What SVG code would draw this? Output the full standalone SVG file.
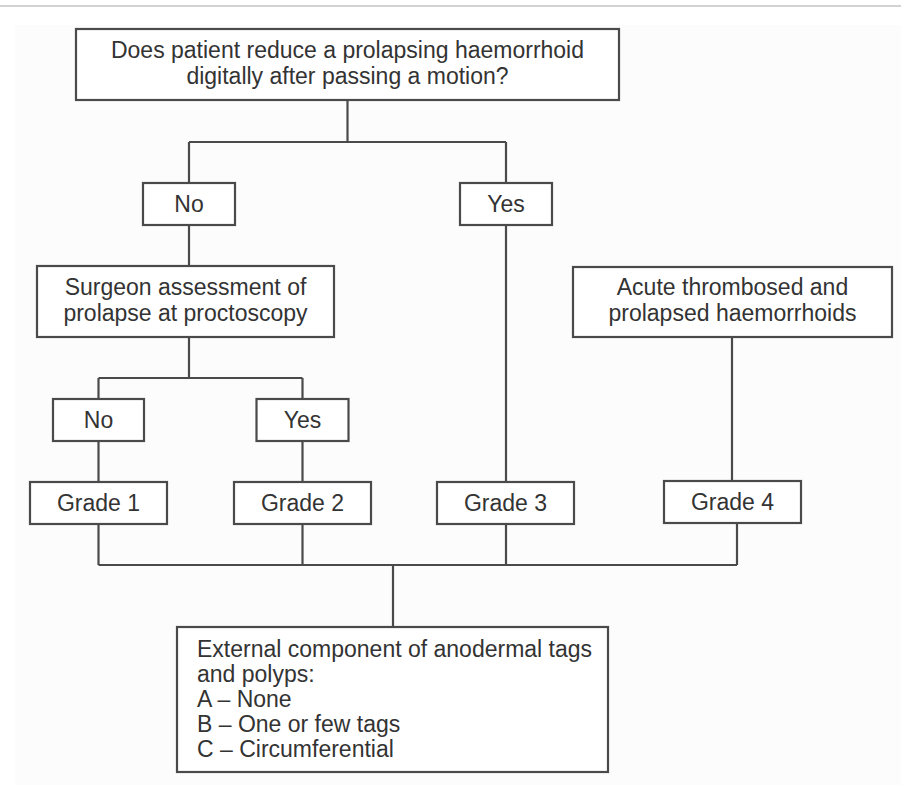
<svg xmlns="http://www.w3.org/2000/svg" width="901" height="785" viewBox="0 0 901 785">
<style>
.box{fill:#ffffff;stroke:#4a4a4a;stroke-width:2.2}
.con{fill:none;stroke:#4a4a4a;stroke-width:2.2}
text{font-family:"Liberation Sans",Arial,sans-serif;font-size:23px;fill:#333333}
.c{text-anchor:middle}
</style>
<rect x="0" y="0" width="901" height="785" fill="#ffffff"/>
<rect x="15" y="25" width="886" height="760" fill="#fcfcfc"/>
<line x1="0" y1="6" x2="901" y2="6" stroke="#d2d2d2" stroke-width="2"/>
<g id="connectors">
<path class="con" d="M347.5,100 V142 M189,142 H506 M189,142 V183 M506,142 V183"/>
<path class="con" d="M189,225 V266"/>
<path class="con" d="M189,337 V378 M98.5,378 H302.5 M98.5,378 V399 M302.5,378 V399"/>
<path class="con" d="M98.5,441 V482 M302.5,441 V482"/>
<path class="con" d="M506,225 V482"/>
<path class="con" d="M732,337 V481"/>
<path class="con" d="M98.5,524 V565 M302.5,524 V565 M506,524 V565 M737,523 V565 M98.5,565 H737 M393,565 V627"/>
</g>
<g id="q1">
<rect class="box" x="76" y="29" width="543" height="71"/>
<text class="c" x="347.5" y="58">Does patient reduce a prolapsing haemorrhoid</text>
<text class="c" x="347.5" y="84">digitally after passing a motion?</text>
</g>
<g id="no1">
<rect class="box" x="143" y="183" width="92" height="42"/>
<text class="c" x="189" y="212">No</text>
</g>
<g id="yes1">
<rect class="box" x="460" y="183" width="92" height="42"/>
<text class="c" x="506" y="212">Yes</text>
</g>
<g id="surgeon">
<rect class="box" x="37" y="266" width="297" height="71"/>
<text class="c" x="185.5" y="295">Surgeon assessment of</text>
<text class="c" x="185.5" y="321">prolapse at proctoscopy</text>
</g>
<g id="acute">
<rect class="box" x="573" y="267" width="319" height="70"/>
<text class="c" x="732.5" y="295">Acute thrombosed and</text>
<text class="c" x="732.5" y="321">prolapsed haemorrhoids</text>
</g>
<g id="no2">
<rect class="box" x="53" y="399" width="91" height="42"/>
<text class="c" x="98.5" y="428">No</text>
</g>
<g id="yes2">
<rect class="box" x="256.5" y="399" width="92" height="42"/>
<text class="c" x="302.5" y="428">Yes</text>
</g>
<g id="grade1">
<rect class="box" x="30" y="482" width="137" height="42"/>
<text class="c" x="98.5" y="511">Grade 1</text>
</g>
<g id="grade2">
<rect class="box" x="234" y="482" width="137" height="42"/>
<text class="c" x="302.5" y="511">Grade 2</text>
</g>
<g id="grade3">
<rect class="box" x="437" y="482" width="137" height="42"/>
<text class="c" x="505.5" y="511">Grade 3</text>
</g>
<g id="grade4">
<rect class="box" x="664" y="481" width="137" height="42"/>
<text class="c" x="732.5" y="510">Grade 4</text>
</g>
<g id="external">
<rect class="box" x="177" y="627" width="431" height="145"/>
<text x="197" y="657">External component of anodermal tags</text>
<text x="197" y="682">and polyps:</text>
<text x="197" y="707">A – None</text>
<text x="197" y="732">B – One or few tags</text>
<text x="197" y="757">C – Circumferential</text>
</g>
</svg>
